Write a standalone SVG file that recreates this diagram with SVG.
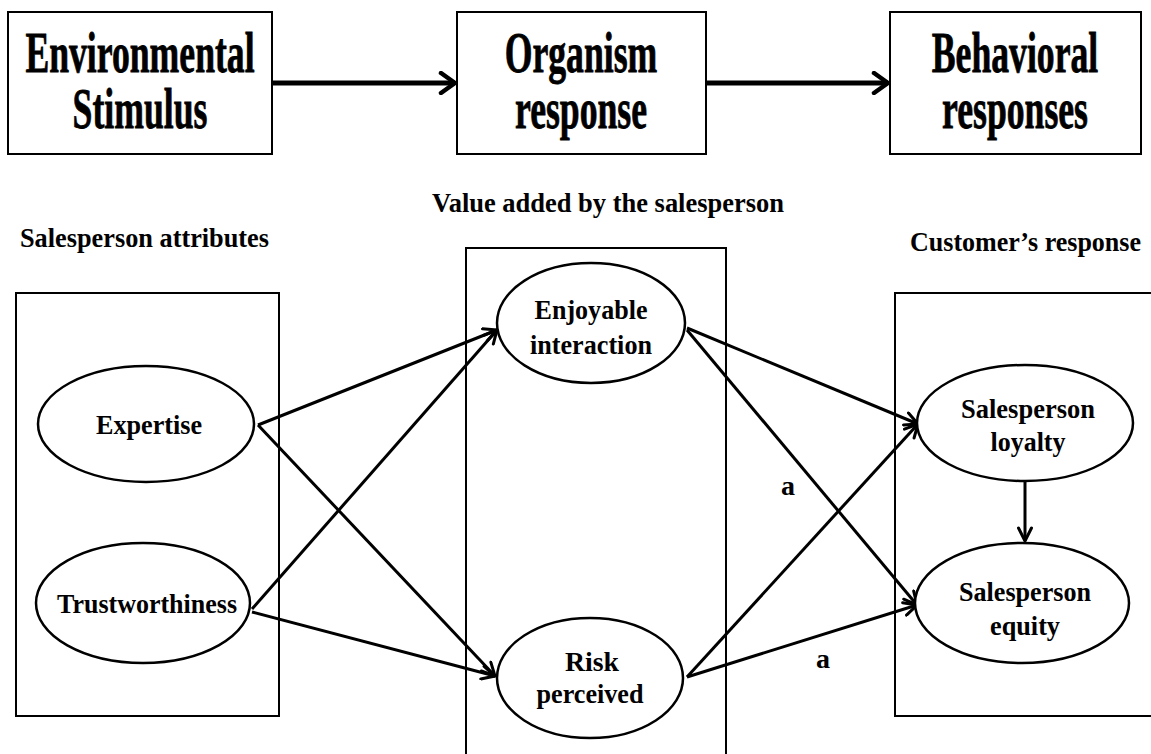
<svg xmlns="http://www.w3.org/2000/svg" width="1151" height="754" viewBox="0 0 1151 754">
<defs>
<style>
.box{fill:none;stroke:#000;stroke-width:2}
.ell{fill:#fff;stroke:#000;stroke-width:2.5}
.con{fill:none;stroke:#000;stroke-width:3}
.thick{fill:none;stroke:#000;stroke-width:5}
.t{font-family:"Liberation Serif","Times New Roman",serif;font-weight:bold;fill:#000;text-anchor:middle}
.big{font-size:56px;stroke:#000;stroke-width:0.8}
.mid{font-size:28px}
.hd{font-family:"Liberation Serif","Times New Roman",serif;font-weight:bold;fill:#000;font-size:27px}
</style>
<marker id="arr" viewBox="0 0 16 16" refX="15" refY="8" markerWidth="16" markerHeight="16" markerUnits="userSpaceOnUse" orient="auto">
<path d="M2,1.5 L15,8 L2,14.5" fill="none" stroke="#000" stroke-width="3" stroke-linecap="round" stroke-linejoin="miter"/>
</marker>
<marker id="arrBig" viewBox="0 0 20 24" refX="18" refY="12" markerWidth="20" markerHeight="24" markerUnits="userSpaceOnUse" orient="auto">
<path d="M4,2 L18,12 L4,22" fill="none" stroke="#000" stroke-width="4.5" stroke-linecap="round"/>
</marker>
</defs>
<rect width="1151" height="754" fill="#fff"/>

<g id="node-environmental">
<rect class="box" x="8" y="12" width="264" height="142"/>
<text class="t big" transform="translate(140,72) scale(0.637,1)">Environmental</text>
<text class="t big" transform="translate(140,128) scale(0.637,1)">Stimulus</text>
</g>
<g id="node-organism">
<rect class="box" x="457" y="12" width="249" height="142"/>
<text class="t big" transform="translate(581,72) scale(0.637,1)">Organism</text>
<text class="t big" transform="translate(581,128) scale(0.637,1)">response</text>
</g>
<g id="node-behavioral">
<rect class="box" x="890" y="12" width="251" height="142"/>
<text class="t big" transform="translate(1015,72) scale(0.637,1)">Behavioral</text>
<text class="t big" transform="translate(1015,128) scale(0.637,1)">responses</text>
</g>

<g id="group-attributes">
<text class="hd" x="20" y="247" textLength="249" lengthAdjust="spacingAndGlyphs">Salesperson attributes</text>
<rect class="box" x="16" y="293" width="263" height="423"/>
</g>
<g id="group-value">
<text class="hd" x="432" y="212" textLength="352" lengthAdjust="spacingAndGlyphs">Value added by the salesperson</text>
<rect class="box" x="466" y="248" width="260" height="520"/>
</g>
<g id="group-customer">
<text class="hd" x="1141" y="251" text-anchor="end" textLength="231" lengthAdjust="spacingAndGlyphs">Customer’s response</text>
<rect class="box" x="895" y="293" width="270" height="423"/>
</g>

<g id="connectors">
<line class="thick" x1="272" y1="83" x2="455" y2="83" marker-end="url(#arrBig)"/>
<line class="thick" x1="706" y1="83" x2="888" y2="83" marker-end="url(#arrBig)"/>
<line class="con" x1="258" y1="425" x2="497" y2="330" marker-end="url(#arr)"/>
<line class="con" x1="258" y1="425" x2="495" y2="676" marker-end="url(#arr)"/>
<line class="con" x1="252" y1="609" x2="497" y2="330" marker-end="url(#arr)"/>
<line class="con" x1="252" y1="612" x2="495" y2="676" marker-end="url(#arr)"/>
<line class="con" x1="687" y1="328" x2="918" y2="424" marker-end="url(#arr)"/>
<line class="con" x1="687" y1="330" x2="917" y2="605" marker-end="url(#arr)"/>
<line class="con" x1="687" y1="677" x2="918" y2="424" marker-end="url(#arr)"/>
<line class="con" x1="687" y1="677" x2="917" y2="605" marker-end="url(#arr)"/>
<line class="con" x1="1025" y1="481" x2="1025" y2="541" stroke-width="2.5" marker-end="url(#arr)"/>
<text class="t mid" x="788" y="495">a</text>
<text class="t mid" x="823" y="668">a</text>
</g>

<g id="node-expertise">
<ellipse class="ell" cx="146" cy="424" rx="108" ry="58"/>
<text class="t mid" x="149" y="434" textLength="106" lengthAdjust="spacingAndGlyphs">Expertise</text>
</g>
<g id="node-trustworthiness">
<ellipse class="ell" cx="143" cy="603" rx="107" ry="60"/>
<text class="t mid" x="147" y="613" textLength="180" lengthAdjust="spacingAndGlyphs">Trustworthiness</text>
</g>
<g id="node-enjoyable">
<ellipse class="ell" cx="591" cy="323" rx="94" ry="60"/>
<text class="t mid" x="591" y="319" textLength="113" lengthAdjust="spacingAndGlyphs">Enjoyable</text>
<text class="t mid" x="591" y="354" textLength="122" lengthAdjust="spacingAndGlyphs">interaction</text>
</g>
<g id="node-risk">
<ellipse class="ell" cx="590" cy="678" rx="93" ry="60"/>
<text class="t mid" x="592" y="671" textLength="54" lengthAdjust="spacingAndGlyphs">Risk</text>
<text class="t mid" x="590" y="703" textLength="107" lengthAdjust="spacingAndGlyphs">perceived</text>
</g>
<g id="node-loyalty">
<ellipse class="ell" cx="1025" cy="423" rx="108" ry="58"/>
<text class="t mid" x="1028" y="418" textLength="134" lengthAdjust="spacingAndGlyphs">Salesperson</text>
<text class="t mid" x="1028" y="451" textLength="75" lengthAdjust="spacingAndGlyphs">loyalty</text>
</g>
<g id="node-equity">
<ellipse class="ell" cx="1022" cy="603" rx="107" ry="60"/>
<text class="t mid" x="1025" y="601" textLength="132" lengthAdjust="spacingAndGlyphs">Salesperson</text>
<text class="t mid" x="1025" y="635" textLength="70" lengthAdjust="spacingAndGlyphs">equity</text>
</g>
</svg>
